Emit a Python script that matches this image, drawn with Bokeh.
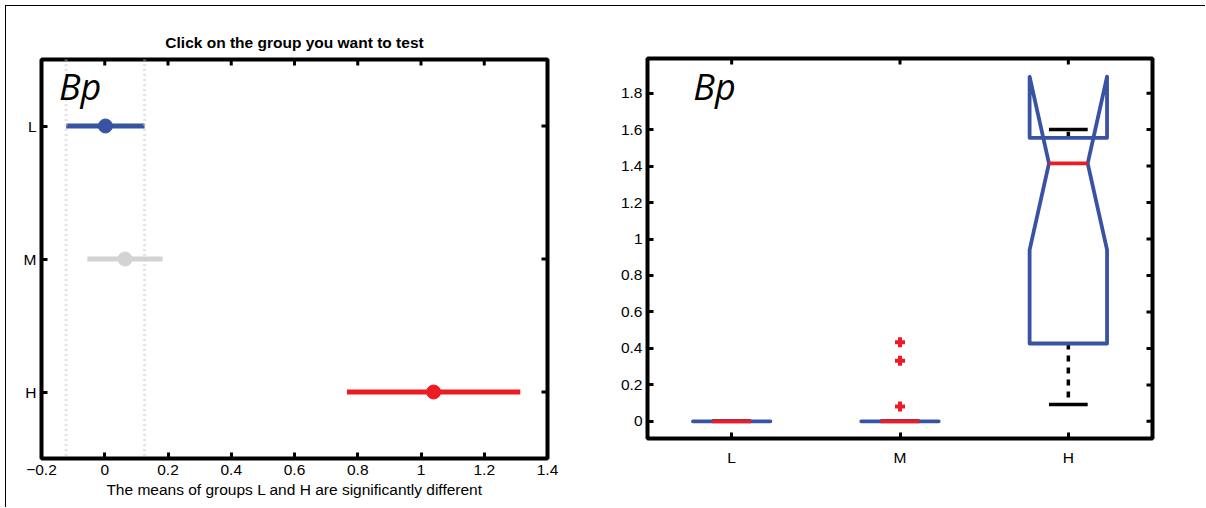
import math
from bokeh.plotting import figure
from bokeh.models import Range1d, FixedTicker, Label, ColumnDataSource, Span
from bokeh.layouts import row, column
from bokeh.embed import file_html
from bokeh.resources import INLINE

# ---------------- data ----------------
groups = ["L", "M", "H"]

# multiple comparison (left)
mc_means = [0.002, 0.064, 1.040]
mc_half = [0.124, 0.119, 0.274]
mc_colors = ["#3953a4", "#d1d3d4", "#ed1c24"]
mc_xticks = [-0.2, 0.0, 0.2, 0.4, 0.6, 0.8, 1.0, 1.2, 1.4]
mc_xtick_labels = ["\u22120.2", "0", "0.2", "0.4", "0.6", "0.8", "1", "1.2", "1.4"]
mc_title = "Click on the group you want to test"
mc_xlabel = "The means of groups L and H are significantly different"

# notched boxplot (right)
bx_q1 = [0.0, 0.0, 0.427]
bx_med = [0.0, 0.0, 1.415]
bx_q3 = [0.0, 0.0, 1.555]
bx_notch_lo = [0.0, 0.0, 0.940]
bx_notch_hi = [0.0, 0.0, 1.890]
bx_wlo = [0.0, 0.0, 0.092]
bx_whi = [0.0, 0.0, 1.600]
out_group = ["M", "M", "M"]
out_vals = [0.082, 0.333, 0.434]
bx_yticks = [0.0, 0.2, 0.4, 0.6, 0.8, 1.0, 1.2, 1.4, 1.6, 1.8]
bx_ytick_labels = ["0", "0.2", "0.4", "0.6", "0.8", "1", "1.2", "1.4", "1.6", "1.8"]

panel_tag = "Bp"

FONT = "Liberation Sans"
FS = "15.5px"
BLUE = "#3953a4"
RED = "#ed1c24"
TICK_IN = 6


def style_axis(ax, standoff):
    ax.axis_line_color = None
    ax.major_tick_in = TICK_IN
    ax.major_tick_out = 0
    ax.minor_tick_in = 0
    ax.minor_tick_out = 0
    ax.major_tick_line_width = 3
    ax.major_tick_line_color = "black"
    ax.major_label_text_font = FONT
    ax.major_label_text_font_size = FS
    ax.major_label_text_color = "black"
    ax.major_label_standoff = standoff


def mirror_ticks(p, xticks, yticks):
    # inward ticks on the top and right edges of the frame (clipped to frame)
    top = p.y_range.end
    right = p.x_range.end
    p.scatter(x=xticks, y=[top] * len(xticks), marker="dash", angle=math.pi / 2,
              size=2 * TICK_IN, line_color="black", line_width=3)
    p.scatter(x=[right] * len(yticks), y=yticks, marker="dash", angle=0,
              size=2 * TICK_IN, line_color="black", line_width=3)


def base_figure(w, h, xr, yr, bl, br, bt, bb):
    p = figure(width=w, height=h, x_range=xr, y_range=yr,
               output_backend="svg", toolbar_location=None,
               min_border_left=bl, min_border_right=br, min_border_top=bt, min_border_bottom=bb)
    p.grid.visible = False
    p.outline_line_color = "black"
    p.outline_line_width = 4
    p.background_fill_color = "white"
    p.border_fill_color = "white"
    return p


pos = {g: i + 1 for i, g in enumerate(groups)}

# ---------------- left figure ----------------
p1 = base_figure(594, 501, Range1d(-0.2, 1.4), Range1d(3.5, 0.5), 35, 53, 53, 49)

p1.xaxis.ticker = FixedTicker(ticks=mc_xticks)
p1.xaxis.major_label_overrides = {t: l for t, l in zip(mc_xticks, mc_xtick_labels)}
p1.yaxis.ticker = FixedTicker(ticks=[pos[g] for g in groups])
p1.yaxis.major_label_overrides = {pos[g]: g for g in groups}
style_axis(p1.xaxis[0], 6)
style_axis(p1.yaxis[0], 5)
p1.xaxis.axis_label = mc_xlabel
p1.xaxis.axis_label_text_font = FONT
p1.xaxis.axis_label_text_font_size = FS
p1.xaxis.axis_label_text_font_style = "normal"
p1.xaxis.axis_label_text_color = "black"
p1.xaxis.axis_label_standoff = 3

p1.title.text = mc_title
p1.title.align = "center"
p1.title.text_font = FONT
p1.title.text_font_size = FS
p1.title.text_font_style = "bold"
p1.title.text_color = "black"
p1.title.standoff = 17

mirror_ticks(p1, mc_xticks, [pos[g] for g in groups])

# dotted reference lines at bounds of group L interval
for b in (mc_means[0] - mc_half[0], mc_means[0] + mc_half[0]):
    p1.add_layout(Span(location=b, dimension="height", line_color="#c8c8c8",
                       line_width=3, line_dash="1 4"))

mc_src = ColumnDataSource(dict(
    y=[pos[g] for g in groups],
    lo=[m - h for m, h in zip(mc_means, mc_half)],
    hi=[m + h for m, h in zip(mc_means, mc_half)],
    m=mc_means, c=mc_colors))
p1.segment(x0="lo", x1="hi", y0="y", y1="y", line_color="c", line_width=5, source=mc_src)
p1.scatter(x="m", y="y", size=14, fill_color="c", line_color="c", source=mc_src)

p1.add_layout(Label(x=-0.145, y=0.70, text=panel_tag, text_font="Open Sans",
                    text_font_style="italic", text_font_size="36px",
                    text_baseline="alphabetic", text_color="black"))

# ---------------- right figure ----------------
p2 = base_figure(605, 501, Range1d(0.5, 3.5), Range1d(-0.094, 1.99), 47, 53, 52, 69)

p2.xaxis.ticker = FixedTicker(ticks=[pos[g] for g in groups])
p2.xaxis.major_label_overrides = {pos[g]: g for g in groups}
p2.yaxis.ticker = FixedTicker(ticks=bx_yticks)
p2.yaxis.major_label_overrides = {t: l for t, l in zip(bx_yticks, bx_ytick_labels)}
style_axis(p2.xaxis[0], 10)
style_axis(p2.yaxis[0], 5)

mirror_ticks(p2, [pos[g] for g in groups], bx_yticks)

W = 0.23   # half box width
NW = 0.115  # half notch width / cap width
xs_box, ys_box = [], []
wx, wy0, wy1 = [], [], []
cx0, cx1, cy = [], [], []
mx0, mx1, my = [], [], []
for i, g in enumerate(groups):
    c = pos[g]
    xs_box.append([c - W, c - W, c - NW, c - W, c - W, c + W, c + W, c + NW, c + W, c + W, c - W])
    ys_box.append([bx_q1[i], bx_notch_lo[i], bx_med[i], bx_notch_hi[i], bx_q3[i], bx_q3[i],
                   bx_notch_hi[i], bx_med[i], bx_notch_lo[i], bx_q1[i], bx_q1[i]])
    wx += [c, c]
    wy0 += [bx_q3[i], bx_q1[i]]
    wy1 += [bx_whi[i], bx_wlo[i]]
    cx0 += [c - NW, c - NW]
    cx1 += [c + NW, c + NW]
    cy += [bx_whi[i], bx_wlo[i]]
    mx0.append(c - NW)
    mx1.append(c + NW)
    my.append(bx_med[i])

p2.segment(x0=wx, x1=wx, y0=wy0, y1=wy1, line_color="black", line_width=3.5,
           line_dash="6 6", line_cap="butt")
p2.segment(x0=cx0, x1=cx1, y0=cy, y1=cy, line_color="black", line_width=3.5)
p2.multi_line(xs=xs_box, ys=ys_box, line_color=BLUE, line_width=3.8,
              line_join="round", line_cap="round")
p2.segment(x0=mx0, x1=mx1, y0=my, y1=my, line_color=RED, line_width=3.8)
p2.scatter(x=[pos[g] for g in out_group], y=out_vals, marker="cross", size=10,
           line_color=RED, line_width=4)

p2.add_layout(Label(x=0.772, y=1.838, text=panel_tag, text_font="Open Sans",
                    text_font_style="italic", text_font_size="36px",
                    text_baseline="alphabetic", text_color="black"))

layout = row(column(p1), column(p2),
             styles={"margin-top": "5px", "margin-left": "5px",
                     "border-top": "1px solid black", "border-left": "1px solid black"})

open("out.html", "w").write(file_html(layout, INLINE))
